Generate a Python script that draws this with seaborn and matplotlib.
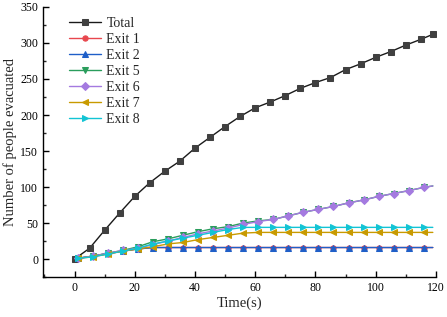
import numpy as np
import pandas as pd
import matplotlib
matplotlib.use("Agg")
import matplotlib.pyplot as plt
from matplotlib.ticker import MultipleLocator
import seaborn as sns

# Data
t_total = [0, 5, 10, 15, 20, 25, 30, 35, 40, 45, 50, 55, 60, 65, 70, 75, 80, 85, 90, 95,
           100, 105, 110, 115, 119]
total = [0, 15, 40, 64, 87, 106, 122, 136, 154, 169, 184, 198, 210, 218, 227, 237, 245,
         252, 263, 271, 280, 288, 297, 305, 312]

t_exit = [1, 6, 11, 16, 21, 26, 31, 36, 41, 46, 51, 56, 61, 66, 71, 76, 81, 86, 91, 96,
          101, 106, 111, 116, 119]
exit1 = [1, 4, 7, 11, 14, 16, 16, 16, 16, 16, 16, 16, 16, 16, 16, 16, 16, 16, 16, 16,
         16, 16, 16, 16, 16]
exit2 = [1, 4, 8, 11, 14, 16, 16, 16, 16, 16, 16, 16, 16, 16, 16, 16, 16, 16, 16, 16,
         16, 16, 16, 16, 16]
exit5 = [1, 4, 8, 12, 17, 24, 28, 33, 38, 42, 45, 50, 53, 55, 60, 65, 69, 73, 78, 82,
         87, 91, 95, 99.5, 101.5]
exit6 = [1, 4, 8, 12, 15, 20, 25, 30, 35, 39, 43, 48, 52, 55, 60, 65, 69, 73, 78, 82,
         87, 91, 95, 99.5, 101.5]
exit7 = [1, 3, 7, 11, 14, 17, 21, 23, 27, 30, 33, 36, 37, 37, 37, 37, 37, 37, 37, 37,
         37, 37, 37, 37, 37]
exit8 = [1, 3, 7, 11, 15, 21, 25, 29, 33, 37, 41, 44, 44, 44, 44, 44, 44, 44, 44, 44,
         44, 44, 44, 44, 44]

series = [
    ("Total", t_total, total, "#1a1a1a", "s", "#404040"),
    ("Exit 1", t_exit, exit1, "#e8474e", "o", "#e8474e"),
    ("Exit 2", t_exit, exit2, "#1f5fc8", "^", "#1f5fc8"),
    ("Exit 5", t_exit, exit5, "#2a9d5c", "v", "#2a9d5c"),
    ("Exit 6", t_exit, exit6, "#a47ae0", "D", "#a47ae0"),
    ("Exit 7", t_exit, exit7, "#c89a00", "<", "#c89a00"),
    ("Exit 8", t_exit, exit8, "#12c4d4", ">", "#12c4d4"),
]

sns.set_style("ticks")
plt.rcParams["font.family"] = ["Liberation Serif", "DejaVu Serif"]

fig = plt.figure(figsize=(4.47, 3.17), dpi=100)
ax = fig.add_axes([0.096, 0.126, 0.879, 0.852])

for name, t, v, col, mk, mcol in series:
    df = pd.DataFrame({"t": t, "v": v})
    every = slice(0, None) if name == "Total" else slice(0, len(t) - 1)
    sns.lineplot(data=df, x="t", y="v", ax=ax, color=col, marker=mk, markersize=3.8,
                 markerfacecolor=mcol, markeredgecolor=mcol, linewidth=1,
                 label=name, markevery=every, errorbar=None, sort=False)

ax.set_xlim(-10.5, 120)
ax.set_ylim(-25, 350)
ax.xaxis.set_major_locator(MultipleLocator(20))
ax.xaxis.set_minor_locator(MultipleLocator(10))
ax.yaxis.set_major_locator(MultipleLocator(50))
ax.yaxis.set_minor_locator(MultipleLocator(25))
ax.tick_params(which="major", direction="in", length=4, width=1, labelsize=8.5,
               colors="black")
ax.tick_params(which="minor", direction="in", length=2, width=1)
for s in ["top", "right"]:
    ax.spines[s].set_visible(False)
for s in ["left", "bottom"]:
    ax.spines[s].set_linewidth(1)
    ax.spines[s].set_color("black")

ax.set_xlabel("Time(s)", fontsize=10.5, labelpad=2)
ax.set_ylabel("Number of people evacuated", fontsize=10.5, labelpad=2)

ax.legend(loc="upper left", bbox_to_anchor=(0.045, 0.995), frameon=False, fontsize=10,
          handlelength=2.3, handletextpad=0.4, labelspacing=0.22, borderaxespad=0.2)

fig.savefig("out.png", dpi=100)
